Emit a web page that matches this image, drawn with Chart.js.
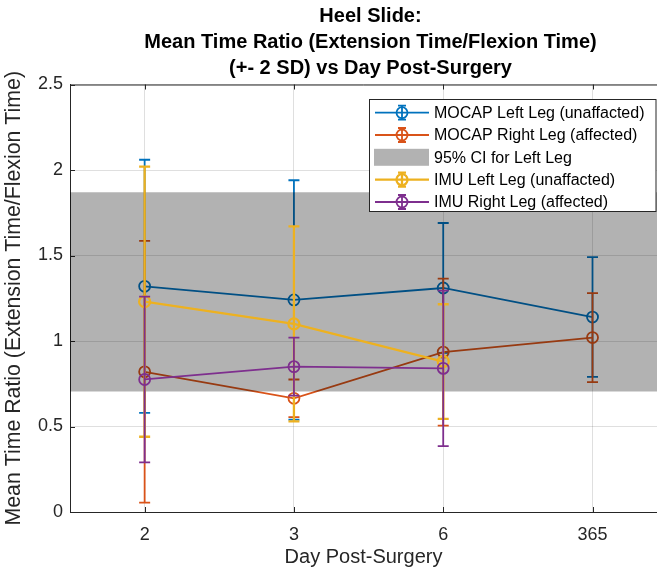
<!DOCTYPE html>
<html>
<head>
<meta charset="utf-8">
<script src="https://cdn.jsdelivr.net/npm/chart.js@4"></script>
<style>
  html, body { margin: 0; padding: 0; background: #fff; }
  #heelChart { display: block; }
</style>
</head>
<body>
<canvas id="heelChart" width="657" height="571"></canvas>
<script>
// values (mean and 2 SD half-width)
const dayLabels = ['2', '3', '6', '365'];
const dayPos = [1, 2, 3, 4];

const mocapLeftMean = [1.32, 1.24, 1.31, 1.14];
const mocapLeftErr = [0.74, 0.70, 0.38, 0.35];
const mocapRightMean = [0.82, 0.665, 0.935, 1.02];
const mocapRightErr = [0.765, 0.11, 0.43, 0.26];
const imuLeftMean = [1.23, 1.10, 0.88];
const imuLeftErr = [0.79, 0.57, 0.335];
const imuRightMean = [0.775, 0.85, 0.84];
const imuRightErr = [0.485, 0.17, 0.455];

const ciLow = 0.705;
const ciHigh = 1.87;

const seriesNames = [
    'MOCAP Left Leg (unaffacted)',
    'MOCAP Right Leg (affected)',
    '95% CI for Left Leg',
    'IMU Left Leg (unaffacted)',
    'IMU Right Leg (affected)'
];
const seriesColors = ['#0072BD', '#D95319', 'rgba(0,0,0,0.3)', '#EDB120', '#7E2F8E'];
const seriesWidths = [1.8, 1.8, 0, 2.3, 1.8];

const FONT = '"Liberation Sans", Arial, Helvetica, sans-serif';

function points(means) {
    return means.map((m, i) => ({ x: dayPos[i], y: m }));
}

function errSeries(idx, means, errs, order) {
    return {
        label: seriesNames[idx],
        data: points(means),
        errors: errs,
        borderColor: seriesColors[idx],
        borderWidth: seriesWidths[idx],
        pointRadius: 5.5,
        pointBorderWidth: seriesWidths[idx],
        pointBackgroundColor: 'rgba(0,0,0,0)',
        pointBorderColor: seriesColors[idx],
        tension: 0,
        fill: false,
        order: order
    };
}

// draws each series' error bars just before the series itself
const errorBars = {
    id: 'errorBars',
    beforeDatasetDraw(chart, args) {
        const ds = chart.data.datasets[args.index];
        if (!ds.errors) return;
        const { ctx, scales: { x, y } } = chart;
        ctx.save();
        ctx.strokeStyle = ds.borderColor;
        ctx.lineWidth = ds.borderWidth;
        ds.data.forEach((p, i) => {
            const px = x.getPixelForValue(p.x);
            const top = y.getPixelForValue(p.y + ds.errors[i]);
            const bot = y.getPixelForValue(p.y - ds.errors[i]);
            ctx.beginPath();
            ctx.moveTo(px, top); ctx.lineTo(px, bot);
            ctx.moveTo(px - 5.5, top); ctx.lineTo(px + 5.5, top);
            ctx.moveTo(px - 5.5, bot); ctx.lineTo(px + 5.5, bot);
            ctx.stroke();
        });
        ctx.restore();
    }
};

// top border of the box and inward tick marks (matlab style)
const axesBox = {
    id: 'axesBox',
    afterLayout(chart) {
        // the axes run a bit past the canvas edge, so centre the title on them
        if (chart.titleBlock) {
            chart.titleBlock.left += 7;
            chart.titleBlock.right += 7;
        }
    },
    beforeDatasetsDraw(chart) {
        const { ctx, chartArea: a, scales: { x, y } } = chart;
        ctx.save();
        ctx.strokeStyle = '#262626';
        ctx.lineWidth = 1;
        ctx.beginPath();
        ctx.moveTo(a.left, a.top + 0.5);
        ctx.lineTo(a.right, a.top + 0.5);
        x.ticks.forEach(t => {
            const px = Math.round(x.getPixelForValue(t.value)) + 0.5;
            ctx.moveTo(px, a.bottom); ctx.lineTo(px, a.bottom - 5);
            ctx.moveTo(px, a.top); ctx.lineTo(px, a.top + 5);
        });
        y.ticks.forEach(t => {
            const py = Math.round(y.getPixelForValue(t.value)) + 0.5;
            ctx.moveTo(a.left, py); ctx.lineTo(a.left + 5, py);
        });
        ctx.stroke();
        ctx.restore();
    }
};

// legend box in the upper right corner
const boxLegend = {
    id: 'boxLegend',
    afterDraw(chart) {
        const ctx = chart.ctx;
        const left = 369.5, top = 99.5, right = 656, bottom = 211.5;
        const rowY = [112.7, 135, 157.3, 179.7, 202];
        ctx.save();
        ctx.fillStyle = '#fff';
        ctx.fillRect(left, top, right - left, bottom - top);
        ctx.strokeStyle = '#262626';
        ctx.lineWidth = 1;
        ctx.strokeRect(left, top, right - left, bottom - top);
        ctx.font = '16px ' + FONT;
        ctx.textBaseline = 'middle';
        seriesNames.forEach((name, i) => {
            const yy = rowY[i];
            const col = seriesColors[i];
            if (i === 2) {
                ctx.fillStyle = col;
                ctx.fillRect(374, yy - 8.5, 55, 17);
            } else {
                ctx.strokeStyle = col;
                ctx.lineWidth = seriesWidths[i];
                ctx.beginPath();
                ctx.moveTo(375, yy); ctx.lineTo(429, yy);
                ctx.moveTo(402, yy - 7); ctx.lineTo(402, yy + 7);
                ctx.moveTo(398, yy - 7); ctx.lineTo(406, yy - 7);
                ctx.moveTo(398, yy + 7); ctx.lineTo(406, yy + 7);
                ctx.stroke();
                ctx.beginPath();
                ctx.arc(402, yy, 5.5, 0, Math.PI * 2);
                ctx.stroke();
            }
            ctx.fillStyle = '#000';
            ctx.fillText(name, 434, yy + 1);
        });
        ctx.restore();
    }
};

const datasets = [
    errSeries(0, mocapLeftMean, mocapLeftErr, 5),
    errSeries(1, mocapRightMean, mocapRightErr, 4),
    {
        label: seriesNames[2],
        data: [{ x: 0.5, y: ciHigh }, { x: 4.5, y: ciHigh }],
        borderWidth: 0,
        borderColor: 'rgba(0,0,0,0)',
        backgroundColor: seriesColors[2],
        pointRadius: 0,
        fill: { value: ciLow },
        order: 3
    },
    errSeries(3, imuLeftMean, imuLeftErr, 2),
    errSeries(4, imuRightMean, imuRightErr, 1)
];

const gridColor = 'rgba(38,38,38,0.15)';

new Chart(document.getElementById('heelChart'), {
    type: 'line',
    data: { datasets: datasets },
    options: {
        responsive: false,
        animation: false,
        devicePixelRatio: 1,
        layout: { padding: 0, autoPadding: false },
        scales: {
            x: {
                type: 'linear',
                min: 0.5,
                max: 4.432,   // the figure is cut off just before 4.5
                afterBuildTicks: axis => {
                    axis.ticks = dayPos.map(v => ({ value: v }));
                },
                afterFit: s => {
                    s.height = 59;
                    s.paddingLeft = 0;
                    s.paddingRight = 0;
                },
                ticks: {
                    callback: v => dayLabels[dayPos.indexOf(v)],
                    color: '#262626',
                    font: { family: FONT, size: 18 },
                    padding: 12,
                    maxRotation: 0
                },
                grid: { color: gridColor, drawTicks: false },
                border: { color: '#262626', width: 1 },
                title: {
                    display: true,
                    text: 'Day Post-Surgery',
                    color: '#262626',
                    font: { family: FONT, size: 20 },
                    padding: { top: 0, bottom: 2 }
                }
            },
            y: {
                min: 0,
                max: 2.5,
                afterFit: s => {
                    s.width = 70;
                    s.paddingTop = 0;
                    s.paddingBottom = 0;
                },
                ticks: {
                    stepSize: 0.5,
                    callback: v => String(+v.toFixed(2)),
                    color: '#262626',
                    font: { family: FONT, size: 18 },
                    padding: 7
                },
                grid: { color: gridColor, drawTicks: false },
                border: { color: '#262626', width: 1 },
                title: {
                    display: true,
                    text: 'Mean Time Ratio (Extension Time/Flexion Time)',
                    color: '#262626',
                    font: { family: FONT, size: 21.3 },
                    padding: { top: 1, bottom: 0 }
                }
            }
        },
        plugins: {
            legend: { display: false },
            tooltip: { enabled: false },
            title: {
                display: true,
                fullSize: false,
                text: ['Heel Slide:', 'Mean Time Ratio (Extension Time/Flexion Time)', '(+- 2 SD) vs Day Post-Surgery'],
                color: '#000',
                font: { family: FONT, size: 20, weight: 'bold', lineHeight: 1.3 },
                padding: { top: 3, bottom: 3.5 }
            }
        }
    },
    plugins: [errorBars, axesBox, boxLegend]
});
</script>
</body>
</html>
